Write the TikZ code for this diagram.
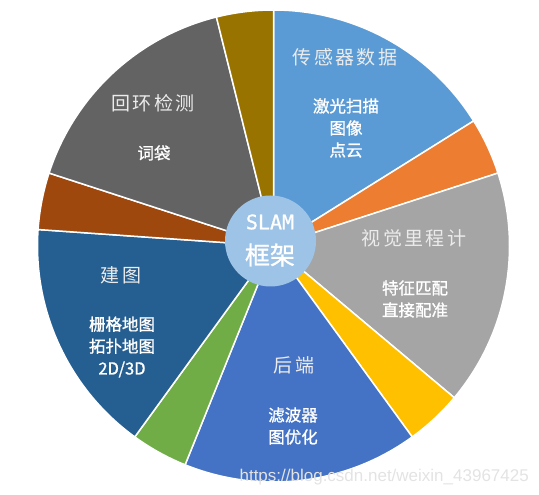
\documentclass[tikz,border=0pt]{standalone}
\usepackage{fontspec}
\usepackage{tikz}
\usetikzlibrary{positioning}
\newfontfamily\cjk[LetterSpace=12]{Noto Sans CJK SC}
\newfontfamily\cjkb[FakeBold=1.2]{Noto Sans CJK SC}
\newfontfamily\slamfont[FakeBold=1]{DejaVu Sans Mono}
\newfontfamily\urlfont{Liberation Sans}
\definecolor{SensorBlue}{HTML}{5B9BD5}
\definecolor{SliceOrange}{HTML}{ED7D31}
\definecolor{OdoGray}{HTML}{A5A5A5}
\definecolor{SliceYellow}{HTML}{FFC000}
\definecolor{BackBlue}{HTML}{4472C4}
\definecolor{SliceGreen}{HTML}{70AD47}
\definecolor{MapBlue}{HTML}{255E91}
\definecolor{SliceBrown}{HTML}{9E480E}
\definecolor{LoopGray}{HTML}{636363}
\definecolor{SliceOlive}{HTML}{997300}
\definecolor{HubBlue}{HTML}{9DC3E6}

\begin{document}
\begin{tikzpicture}[x=1pt,y=1pt,
  slice/.style={draw=white, line width=1.5pt, line join=round},
  title/.style={text=white!92!black, font=\cjk\fontsize{19}{22}\selectfont, inner sep=0pt},
  sub/.style={text=white, align=center, font=\cjkb\fontsize{16.5}{22}\selectfont, inner sep=0pt}]
  \useasboundingbox (0,0) rectangle (539,495);
  \coordinate (c) at (273.5,249);
  % slices
  \fill[SensorBlue, slice] (c) -- ++(32:236) arc[start angle=32, end angle=90, radius=236] -- cycle;
  \fill[SliceOrange, slice] (c) -- ++(18:236) arc[start angle=18, end angle=32, radius=236] -- cycle;
  \fill[OdoGray, slice] (c) -- ++(-40:236) arc[start angle=-40, end angle=18, radius=236] -- cycle;
  \fill[SliceYellow, slice] (c) -- ++(-54:236) arc[start angle=-54, end angle=-40, radius=236] -- cycle;
  \fill[BackBlue, slice] (c) -- ++(-112:236) arc[start angle=-112, end angle=-54, radius=236] -- cycle;
  \fill[SliceGreen, slice] (c) -- ++(-126:236) arc[start angle=-126, end angle=-112, radius=236] -- cycle;
  \fill[MapBlue, slice] (c) -- ++(-184:236) arc[start angle=-184, end angle=-126, radius=236] -- cycle;
  \fill[SliceBrown, slice] (c) -- ++(162:236) arc[start angle=162, end angle=176, radius=236] -- cycle;
  \fill[LoopGray, slice] (c) -- ++(104:236) arc[start angle=104, end angle=162, radius=236] -- cycle;
  \fill[SliceOlive, slice] (c) -- ++(90:236) arc[start angle=90, end angle=104, radius=236] -- cycle;
  % hub
  \node[circle, fill=HubBlue, minimum size=91pt, inner sep=0pt] (hub) at (270.5,254) {};
  \node[text=white, font=\slamfont\fontsize{20}{20}\selectfont, inner sep=0pt] (slam) at (270,273) {SLAM};
  \node[text=white, font=\cjkb\fontsize{25}{25}\selectfont, inner sep=0pt] (frame) at (270,240) {框架};
  % labels
  \node[title] (sensor) at (345,438) {传感器数据};
  \node[sub] (sensorsub) at (346,367) {激光扫描\\图像\\点云};
  \node[title] (odo) at (414,257) {视觉里程计};
  \node[sub] (odosub) at (415,196) {特征匹配\\直接配准};
  \node[title] (back) at (294,130) {后端};
  \node[sub] (backsub) at (293,69) {滤波器\\图优化};
  \node[title] (map) at (121,220) {建图};
  \node[sub] (mapsub) at (122,148) {栅格地图\\拓扑地图\\2D/3D};
  \node[title] (loop) at (153,392) {回环检测};
  \node[sub] (loopsub) at (154,342) {词袋};
  % watermark
  \node[text=white!78!gray, font=\urlfont\fontsize{17}{17}\selectfont, inner sep=0pt, anchor=east] (mark) at (529,18) {https://blog.csdn.net/weixin\_43967425};
\end{tikzpicture}
\end{document}
